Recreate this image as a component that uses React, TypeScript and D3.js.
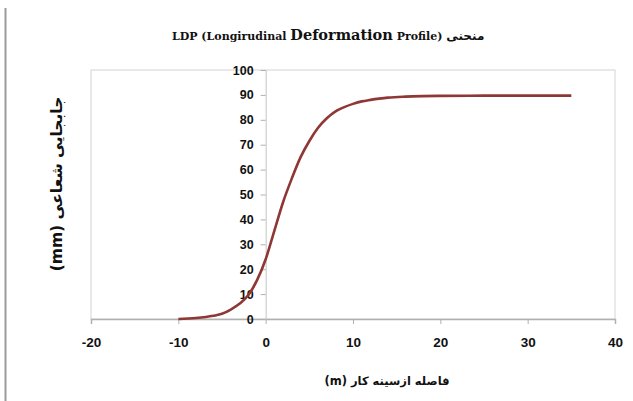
import { useEffect, useRef } from 'react'
import * as d3 from 'd3'

// distance from face (m)
const distances = [-10, -8, -6, -5, -4, -3, -2, -1, 0, 1, 2, 3, 4, 5, 6, 7, 8, 9, 10, 11, 12, 13, 14, 16, 18, 20, 25, 30, 35]
// radial displacement (mm)
const displacements = [0, 0.4, 1.3, 2.1, 3.8, 6.1, 9.5, 15.5, 24, 35.5, 47, 56.5, 65, 71.5, 76.8, 80.6, 83.4, 85.1, 86.4, 87.4, 88, 88.5, 88.9, 89.3, 89.5, 89.6, 89.7, 89.7, 89.7]

const xTicks = [-20, -10, 0, 10, 20, 30, 40]
const yTicks = [0, 10, 20, 30, 40, 50, 60, 70, 80, 90, 100]

const W = 633
const H = 401
const margin = { top: 70, right: 18, bottom: 82, left: 91 }
const arFont = '"DejaVu Sans", Arial, sans-serif'
const numFont = '"Liberation Sans", Arial, sans-serif'

export default function App() {
  const svgRef = useRef<SVGSVGElement>(null)

  useEffect(() => {
    const svg = d3.select(svgRef.current)
    svg.selectAll('*').remove()

    const innerW = W - margin.left - margin.right
    const innerH = H - margin.top - margin.bottom

    const x = d3.scaleLinear().domain([-20, 40]).range([0, innerW])
    const y = d3.scaleLinear().domain([0, 100]).range([innerH, 0])

    svg.append('rect').attr('width', W).attr('height', H).attr('fill', '#fff')

    // page edge line on the left
    svg.append('line')
      .attr('x1', 5.5).attr('x2', 5.5).attr('y1', 8).attr('y2', H)
      .attr('stroke', '#9a9a9a').attr('stroke-width', 2)

    const g = svg.append('g').attr('transform', `translate(${margin.left},${margin.top})`)

    // plot frame
    g.append('rect')
      .attr('x', 0).attr('y', 0).attr('width', innerW).attr('height', innerH)
      .attr('fill', 'none').attr('stroke', '#d4d4d4').attr('stroke-width', 1)

    // x axis at y = 0
    const xAxis = g.append('g').attr('transform', `translate(0,${innerH})`)
      .call(d3.axisBottom(x).tickValues(xTicks).tickSize(5).tickFormat(d => String(d)))
    xAxis.select('.domain').attr('stroke', '#b0b0b0').attr('stroke-width', 1.5)
    xAxis.selectAll('.tick line').attr('stroke', '#b0b0b0')
    xAxis.selectAll('.tick text')
      .attr('dy', '1.45em')
      .attr('fill', '#111')
      .attr('font-family', numFont)
      .attr('font-weight', 'bold')
      .attr('font-size', 13.5)

    // y axis at x = 0
    const yAxis = g.append('g').attr('transform', `translate(${x(0)},0)`)
      .call(d3.axisLeft(y).tickValues(yTicks).tickSize(5).tickFormat(d => String(d)))
    yAxis.select('.domain').attr('stroke', '#c4c4c4').attr('stroke-width', 1)
    yAxis.selectAll('.tick line').attr('stroke', '#b0b0b0')
    yAxis.selectAll('.tick text')
      .attr('x', -12)
      .attr('fill', '#111')
      .attr('font-family', numFont)
      .attr('font-weight', 'bold')
      .attr('font-size', 12.5)

    const line = d3.line<number>()
      .x((_, i) => x(distances[i]))
      .y(d => y(d))
      .curve(d3.curveMonotoneX)

    g.append('path')
      .datum(displacements)
      .attr('d', line)
      .attr('fill', 'none')
      .attr('stroke', '#8e3734')
      .attr('stroke-width', 2.6)
      .attr('stroke-linejoin', 'round')

    // title
    const title = svg.append('text')
      .attr('x', 172).attr('y', 40)
      .attr('font-family', '"DejaVu Serif", "Times New Roman", serif')
      .attr('font-weight', 'bold')
      .attr('fill', '#111')
    title.append('tspan').attr('font-size', 11).text('LDP (Longirudinal ')
    title.append('tspan').attr('font-size', 14.5).text('Deformation')
    title.append('tspan').attr('font-size', 11).text(' Profile) ')
    title.append('tspan').attr('font-size', 12).attr('font-family', arFont).text('منحنی')

    // axis titles
    svg.append('text')
      .attr('x', 387).attr('y', 385)
      .attr('text-anchor', 'middle')
      .attr('direction', 'rtl')
      .attr('font-family', arFont)
      .attr('font-weight', 'bold')
      .attr('font-size', 11.5)
      .attr('fill', '#111')
      .text('فاصله ازسینه کار (m)')

    svg.append('text')
      .attr('transform', 'translate(62,184) rotate(-90)')
      .attr('text-anchor', 'middle')
      .attr('direction', 'rtl')
      .attr('font-family', arFont)
      .attr('font-weight', 'bold')
      .attr('font-size', 15.5)
      .attr('fill', '#111')
      .text('جابجایی شعاعی (mm)')
  }, [])

  return (
    <svg
      ref={svgRef}
      width={W}
      height={H}
      style={{ display: 'block', position: 'absolute', left: 0, top: 0 }}
    />
  )
}
